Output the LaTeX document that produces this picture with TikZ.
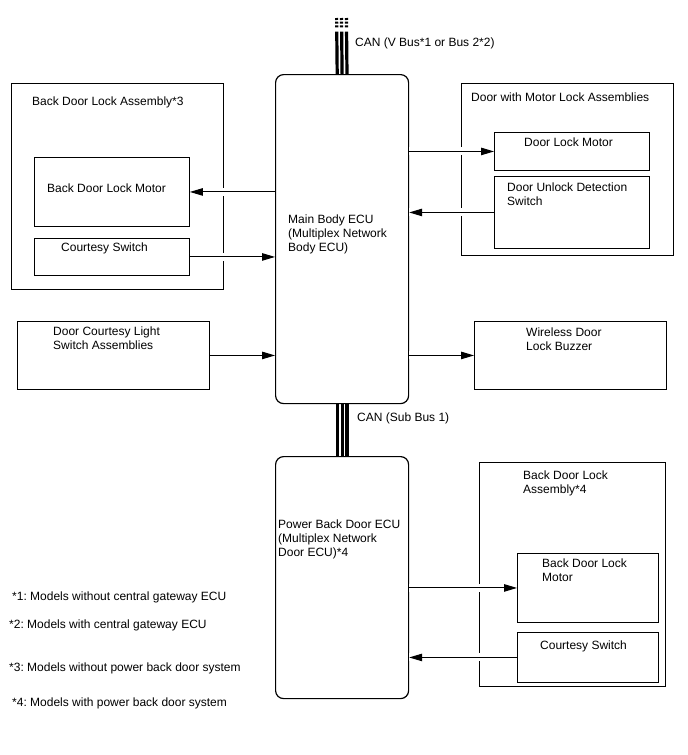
\documentclass[tikz,border=0pt]{standalone}
\usepackage{fontspec}
\setmainfont{Liberation Sans}
\frenchspacing
\usetikzlibrary{arrows.meta}
\tikzset{
  part/.style   = {draw, line width=0.9pt, inner sep=0pt, anchor=north west},
  ecubox/.style = {draw, line width=1.2pt, rounded corners=8pt, inner sep=0pt, anchor=north west},
  txt/.style    = {font=\fontsize{12}{14}\selectfont, align=left, inner sep=0pt, anchor=north west},
  sig/.style    = {-{Triangle[length=13pt,width=7.5pt]}, line width=1pt,
                   preaction={draw=white, line width=8pt, arrows=-}},
  bus/.style    = {line width=3.2pt},
}

\begin{document}
\begin{tikzpicture}[x=1pt, y=-1pt]
\useasboundingbox (0,0) rectangle (688,755);

% ECUs, explicit coordinates in px of the sheet
\node[ecubox, minimum width=133pt, minimum height=329pt] (ecu) at (275,74) {};
\node[ecubox, minimum width=133pt, minimum height=242pt] (pbd) at (275,456) {};
\node[txt] (ecu-t) at (288,215) {Main Body ECU\\(Multiplex Network\\Body ECU)};
\node[txt] (pbd-t) at (278,520) {Power Back Door ECU\\(Multiplex Network\\Door ECU)*4};

% left side
\node[part, minimum width=212pt, minimum height=206pt] (bdla3) at (11,83) {};
\node[part, minimum width=155pt, minimum height=69pt] (bdlm3) at (34,157) {};
\node[part, minimum width=155pt, minimum height=37pt] (cs3) at (34,238) {};
\node[part, minimum width=192pt, minimum height=68pt] (dcl) at (17,321) {};
\node[txt] (bdla3-t) at (32,97) {Back Door Lock Assembly*3};
\node[txt] (bdlm3-t) at (47,184) {Back Door Lock Motor};
\node[txt] (cs3-t) at (61,243) {Courtesy Switch};
\node[txt] (dcl-t) at (53,327) {Door Courtesy Light\\Switch Assemblies};

% right side
\node[part, minimum width=212pt, minimum height=172pt] (dwmla) at (461,83) {};
\node[part, minimum width=155pt, minimum height=38pt] (dlm) at (494,132) {};
\node[part, minimum width=155pt, minimum height=72pt] (duds) at (494,176) {};
\node[part, minimum width=192pt, minimum height=68pt] (wdlb) at (474,321) {};
\node[txt] (dwmla-t) at (471,93) {Door with Motor Lock Assemblies};
\node[txt] (dlm-t) at (524,138) {Door Lock Motor};
\node[txt] (duds-t) at (507,183) {Door Unlock Detection\\Switch};
\node[txt] (wdlb-t) at (526,328) {Wireless Door\\Lock Buzzer};

\node[part, minimum width=186pt, minimum height=224pt] (bdla4) at (479,462) {};
\node[part, minimum width=141pt, minimum height=69pt] (bdlm4) at (517,553) {};
\node[part, minimum width=141pt, minimum height=50pt] (cs4) at (517,632) {};
\node[txt] (bdla4-t) at (523,471) {Back Door Lock\\Assembly*4};
\node[txt] (bdlm4-t) at (542,559) {Back Door Lock\\Motor};
\node[txt] (cs4-t) at (540,641) {Courtesy Switch};

% CAN buses
\coordinate (canin) at (341.5,18);
\draw[bus, dash pattern=on 2pt off 1.7pt on 2pt off 1.7pt on 2pt off 4.3pt on 80pt]
  ([xshift=-4.9pt]canin) -- ([xshift=-4.9pt]ecu.north);
\draw[bus, dash pattern=on 2pt off 1.7pt on 2pt off 1.7pt on 2pt off 4.3pt on 80pt]
  (canin) -- (ecu.north);
\draw[bus, dash pattern=on 2pt off 1.7pt on 2pt off 1.7pt on 2pt off 4.3pt on 80pt]
  ([xshift=4.9pt]canin) -- ([xshift=4.9pt]ecu.north);
\draw[bus] ([xshift=-4.9pt]ecu.south) -- ([xshift=-4.9pt]pbd.north);
\draw[bus] (ecu.south) -- (pbd.north);
\draw[bus] ([xshift=4.9pt]ecu.south) -- ([xshift=4.9pt]pbd.north);
\node[txt] (can1) at (355,38) {CAN (V Bus*1 or Bus 2*2)};
\node[txt] (can2) at (357,413) {CAN (Sub Bus 1)};

% signals
\draw[sig] (ecu.west |- bdlm3.east) -- (bdlm3.east);
\draw[sig] (cs3.east) -- (cs3.east -| ecu.west);
\draw[sig] (dcl.east) -- (dcl.east -| ecu.west);
\draw[sig] (ecu.east |- dlm.west) -- (dlm.west);
\draw[sig] (duds.west) -- (duds.west -| ecu.east);
\draw[sig] (ecu.east |- wdlb.west) -- (wdlb.west);
\draw[sig] (pbd.east |- bdlm4.west) -- (bdlm4.west);
\draw[sig] (cs4.west) -- (cs4.west -| pbd.east);

% notes
\node[txt] (n1) at (12,592) {*1: Models without central gateway ECU};
\node[txt] (n2) at (9,620) {*2: Models with central gateway ECU};
\node[txt] (n3) at (9,663) {*3: Models without power back door system};
\node[txt] (n4) at (12,698) {*4: Models with power back door system};

\end{tikzpicture}
\end{document}
